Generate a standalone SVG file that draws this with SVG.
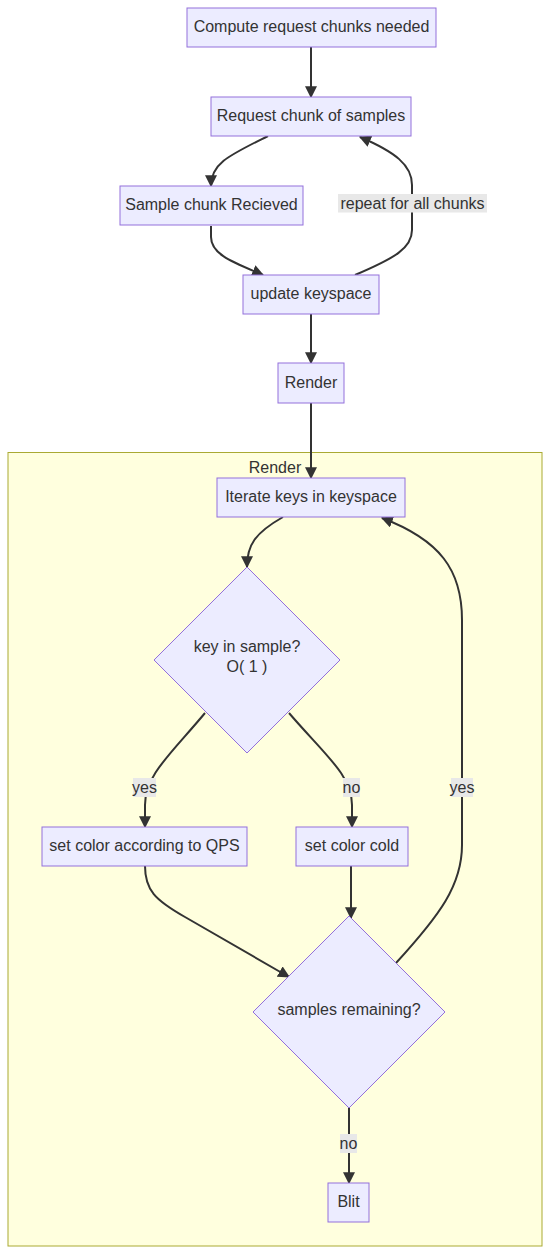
<svg xmlns="http://www.w3.org/2000/svg" width="550" height="1255" viewBox="0 0 550 1255">
<style>
.node rect, .node polygon { fill: #ECECFF; stroke: #9370DB; stroke-width: 1; }
.node text, .lbl text, .cl text { font-family: "Liberation Sans", Arial, sans-serif; font-size: 16px; fill: #333333; text-anchor: middle; dominant-baseline: central; }
.edge { fill: none; stroke: #333333; stroke-width: 2; marker-end: url(#arrow); }
.lbl rect { fill: #e8e8e8; }
.cluster { fill: #ffffde; stroke: #aaaa33; stroke-width: 1; }
</style>
<defs>
<marker id="arrow" viewBox="0 0 10 10" refX="9" refY="5" markerWidth="12" markerHeight="12" markerUnits="userSpaceOnUse" orient="auto">
<path d="M0,0 L10,5 L0,10 z" fill="#333333"/>
</marker>
</defs>
<rect width="550" height="1255" fill="#ffffff"/>
<g id="cluster-render" class="cl">
<rect class="cluster" x="8" y="452.5" width="534" height="793.5"/>
<text x="275" y="467">Render</text>
</g>
<g id="connectors">
<path class="edge" d="M311,47 L311,97"/>
<path class="edge" d="M268,136 C230,155 211,163 211,186"/>
<path class="edge" d="M211,226 L211,237 C211,255 235,263 263,275"/>
<path class="edge" d="M355,275 C395,258 412,248 412,230 L412,185 C412,165 395,152 360,137"/>
<path class="edge" d="M311,314 L311,363"/>
<path class="edge" d="M311,403 L311,478"/>
<path class="edge" d="M283,517 C255,533 247,545 247,567"/>
<path class="edge" d="M205,713 C170,755 145,775 145,805 L145,827"/>
<path class="edge" d="M289,713 C325,755 352,775 352,805 L352,827"/>
<path class="edge" d="M351,866 L351,918"/>
<path class="edge" d="M145,866 C145,890 155,900 185,917 L289,977"/>
<path class="edge" d="M396,963 C440,915 462,885 462,845 L462,620 C462,570 440,540 382,518"/>
<path class="edge" d="M349,1108 L349,1183"/>
</g>
<g id="edge-labels">
<g class="lbl"><rect x="338" y="194" width="149" height="18.5"/><text x="412.5" y="203">repeat for all chunks</text></g>
<g class="lbl"><rect x="133" y="778" width="23" height="19"/><text x="144.5" y="787">yes</text></g>
<g class="lbl"><rect x="343" y="778" width="17" height="19"/><text x="351.5" y="787">no</text></g>
<g class="lbl"><rect x="451" y="778" width="22" height="19"/><text x="462" y="787">yes</text></g>
<g class="lbl"><rect x="340" y="1134" width="17" height="19"/><text x="348.5" y="1143">no</text></g>
</g>
<g id="n1" class="node"><rect x="187" y="8" width="249" height="39"/><text x="311.5" y="26.5">Compute request chunks needed</text></g>
<g id="n2" class="node"><rect x="211" y="97" width="200" height="39"/><text x="311" y="115.5">Request chunk of samples</text></g>
<g id="n3" class="node"><rect x="120" y="186" width="183" height="39"/><text x="211.5" y="204.5">Sample chunk Recieved</text></g>
<g id="n4" class="node"><rect x="243" y="275" width="136" height="39"/><text x="311" y="293.5">update keyspace</text></g>
<g id="n5" class="node"><rect x="278" y="363" width="66" height="40"/><text x="311" y="382">Render</text></g>
<g id="n6" class="node"><rect x="217" y="478" width="188" height="39"/><text x="311" y="496.5">Iterate keys in keyspace</text></g>
<g id="d1" class="node"><polygon points="247,567 340,660 247,753 154,660"/><text x="247" y="646">key in sample?</text><text x="247" y="666">O( 1 )</text></g>
<g id="n7" class="node"><rect x="42" y="827" width="205" height="39"/><text x="144.5" y="845.5">set color according to QPS</text></g>
<g id="n8" class="node"><rect x="296" y="827" width="112" height="39"/><text x="352" y="845.5">set color cold</text></g>
<g id="d2" class="node"><polygon points="349,916 445,1012 349,1108 253,1012"/><text x="349" y="1009">samples remaining?</text></g>
<g id="n9" class="node"><rect x="328" y="1183" width="41" height="39"/><text x="348.5" y="1201.5">Blit</text></g>
</svg>
